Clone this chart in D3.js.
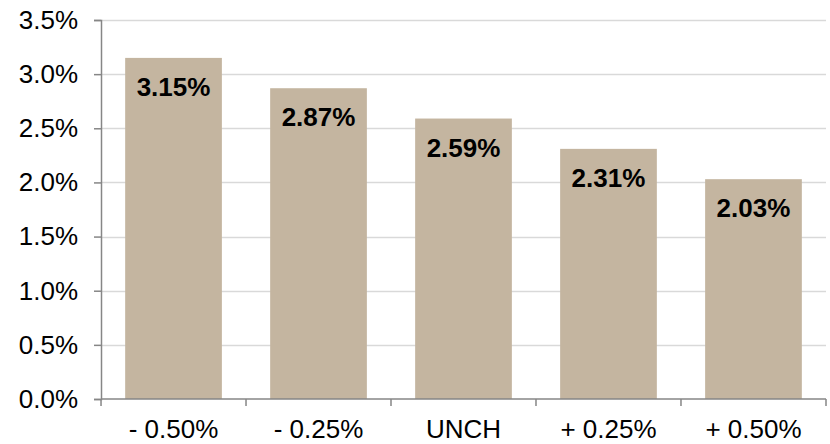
<!DOCTYPE html>
<html>
<head>
<meta charset="utf-8">
<script src="https://cdn.jsdelivr.net/npm/d3@7"></script>
<style>
  body { margin: 0; background: #fff; }
  text { font-family: "Liberation Sans", Arial, sans-serif; }
</style>
</head>
<body>
<div id="chart"></div>
<script>
// chart data
const categories = ["- 0.50%", "- 0.25%", "UNCH", "+ 0.25%", "+ 0.50%"];
const values = [3.15, 2.87, 2.59, 2.31, 2.03];
const yTicks = [0, 0.5, 1.0, 1.5, 2.0, 2.5, 3.0, 3.5];

const W = 830, H = 444;
const margin = {top: 20, right: 4, bottom: 45, left: 101};

const svg = d3.select("#chart")
  .append("svg")
  .attr("width", W)
  .attr("height", H);

const x = d3.scaleBand()
  .domain(categories)
  .range([margin.left, W - margin.right])
  .paddingInner(0.333)
  .paddingOuter(0.1667);

const y = d3.scaleLinear()
  .domain([0, 3.5])
  .range([H - margin.bottom, margin.top]);

// gridlines
svg.append("g")
  .selectAll("line")
  .data(yTicks.filter(d => d > 0))
  .enter()
  .append("line")
  .attr("x1", margin.left)
  .attr("x2", W - margin.right)
  .attr("y1", d => Math.round(y(d)) + 0.5)
  .attr("y2", d => Math.round(y(d)) + 0.5)
  .attr("stroke", "#d9d9d9")
  .attr("stroke-width", 1.5);

// bars
svg.append("g")
  .selectAll("rect")
  .data(values)
  .enter()
  .append("rect")
  .attr("x", (d, i) => x(categories[i]))
  .attr("width", x.bandwidth())
  .attr("y", d => y(d))
  .attr("height", d => y(0) - y(d))
  .attr("fill", "#c4b5a0");

// value labels
svg.append("g")
  .selectAll("text")
  .data(values)
  .enter()
  .append("text")
  .attr("x", (d, i) => x(categories[i]) + x.bandwidth() / 2)
  .attr("y", d => y(d) + 38)
  .attr("text-anchor", "middle")
  .attr("font-size", 26)
  .attr("font-weight", "bold")
  .attr("fill", "#000")
  .text(d => d.toFixed(2) + "%");

// y axis
const yAxis = svg.append("g")
  .attr("transform", `translate(${margin.left},0)`)
  .call(d3.axisLeft(y).tickValues(yTicks).tickSize(7).tickPadding(16)
    .tickFormat(d => d.toFixed(1) + "%"));
yAxis.select(".domain").attr("stroke", "#868686").attr("stroke-width", 1.5);
yAxis.selectAll(".tick line").attr("stroke", "#868686").attr("stroke-width", 1.5);
yAxis.selectAll(".tick text")
  .attr("font-size", 26)
  .attr("fill", "#000")
  .style("font-family", "Liberation Sans, Arial, sans-serif");

// x axis with ticks at category boundaries
const xAxisG = svg.append("g")
  .attr("transform", `translate(0,${y(0)})`);
xAxisG.append("line")
  .attr("x1", margin.left)
  .attr("x2", W - margin.right)
  .attr("stroke", "#868686")
  .attr("stroke-width", 1.5);
const boundaries = categories.map(c => x(c) - x.step() * x.paddingInner() / 2)
  .concat([W - margin.right]);
xAxisG.selectAll(".bt")
  .data(boundaries)
  .enter()
  .append("line")
  .attr("class", "bt")
  .attr("x1", d => d)
  .attr("x2", d => d)
  .attr("y1", 0)
  .attr("y2", 7)
  .attr("stroke", "#868686")
  .attr("stroke-width", 1.5);
xAxisG.selectAll(".cl")
  .data(categories)
  .enter()
  .append("text")
  .attr("class", "cl")
  .attr("x", d => x(d) + x.bandwidth() / 2)
  .attr("y", 39)
  .attr("text-anchor", "middle")
  .attr("font-size", 26)
  .attr("fill", "#000")
  .text(d => d);
</script>
</body>
</html>
